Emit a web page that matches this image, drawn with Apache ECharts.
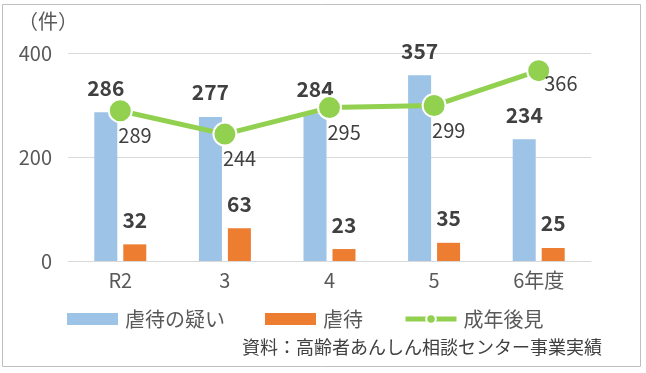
<!DOCTYPE html>
<html><head><meta charset="utf-8">
<script src="https://cdn.jsdelivr.net/npm/echarts@6/dist/echarts.min.js"></script>
<style>html,body{margin:0;padding:0;background:#fff}#c{width:646px;height:373px}</style>
</head><body><div id="c"></div>
<script>
const categories = ['R2', '3', '4', '5', '6年度'];
const suspected = [286, 277, 284, 357, 234];
const abuse = [32, 63, 23, 35, 25];
const guardianship = [289, 244, 295, 299, 366];
const seriesNames = ['虐待の疑い', '虐待', '成年後見'];
const yTicks = {min: 0, max: 400, interval: 200};
const unitLabel = '（件）';
const sourceText = '資料：高齢者あんしん相談センター事業実績';

const FONT = '"Noto Sans CJK JP", "Noto Sans", sans-serif';
const chart = echarts.init(document.getElementById('c'), null, {renderer: 'canvas'});

const lineData = guardianship.map((v, i) => {
  if (i === guardianship.length - 1) {
    return {value: v, label: {position: 'right', align: 'left', distance: 0, offset: [-7, 13]}};
  }
  return v;
});

chart.setOption({
  animation: false,
  textStyle: {fontFamily: FONT},
  graphic: [
    {type: 'rect', shape: {x: 2.5, y: 4.5, width: 638, height: 362}, style: {fill: 'none', stroke: '#bfbfbf', lineWidth: 1}, silent: true},
    {type: 'text', left: 18, top: 11, style: {text: unitLabel, font: '20px ' + FONT, fill: '#595959'}},
    {type: 'text', right: 44, top: 338, style: {text: sourceText, font: '18px ' + FONT, fill: '#404040'}}
  ],
  grid: {left: 68, right: 55, top: 53, bottom: 112, containLabel: false},
  legend: {
    left: 62, top: 304, itemWidth: 51, itemHeight: 12, itemGap: 40,
    textStyle: {fontSize: 20, color: '#595959', fontFamily: FONT, padding: [0, 0, 0, 2]},
    data: [
      {name: seriesNames[0], icon: 'rect'},
      {name: seriesNames[1], icon: 'rect'},
      {name: seriesNames[2], lineStyle: {width: 5, color: '#92D050'}, itemStyle: {color: '#92D050', borderColor: '#fff', borderWidth: 2}}
    ]
  },
  xAxis: {
    type: 'category', data: categories,
    axisLine: {lineStyle: {color: '#d9d9d9', width: 1}},
    axisTick: {show: false},
    axisLabel: {color: '#595959', fontSize: 20, margin: 9, fontFamily: FONT}
  },
  yAxis: {
    type: 'value', min: yTicks.min, max: yTicks.max, interval: yTicks.interval,
    axisLine: {show: false}, axisTick: {show: false},
    axisLabel: {color: '#595959', fontSize: 20, margin: 16, fontFamily: FONT},
    splitLine: {lineStyle: {color: '#d9d9d9', width: 1}}
  },
  series: [
    {
      name: seriesNames[0], type: 'bar', data: suspected, barWidth: 23, barGap: '26%',
      itemStyle: {color: '#9DC3E6'},
      label: {show: true, position: 'top', distance: 14, fontSize: 21, fontWeight: 'bold', color: '#404040', fontFamily: FONT}
    },
    {
      name: seriesNames[1], type: 'bar', data: abuse, barWidth: 23,
      itemStyle: {color: '#ED7D31'},
      label: {show: true, position: 'top', distance: 14, fontSize: 21, fontWeight: 'bold', color: '#404040', fontFamily: FONT}
    },
    {
      name: seriesNames[2], type: 'line', data: lineData, z: 5,
      symbol: 'circle', symbolSize: 23,
      lineStyle: {color: '#92D050', width: 5},
      itemStyle: {color: '#92D050', borderColor: '#fff', borderWidth: 2},
      label: {show: true, position: 'bottom', align: 'left', distance: 2, offset: [-2, 0], fontSize: 20, color: '#404040', fontFamily: FONT}
    }
  ]
});
</script></body></html>
